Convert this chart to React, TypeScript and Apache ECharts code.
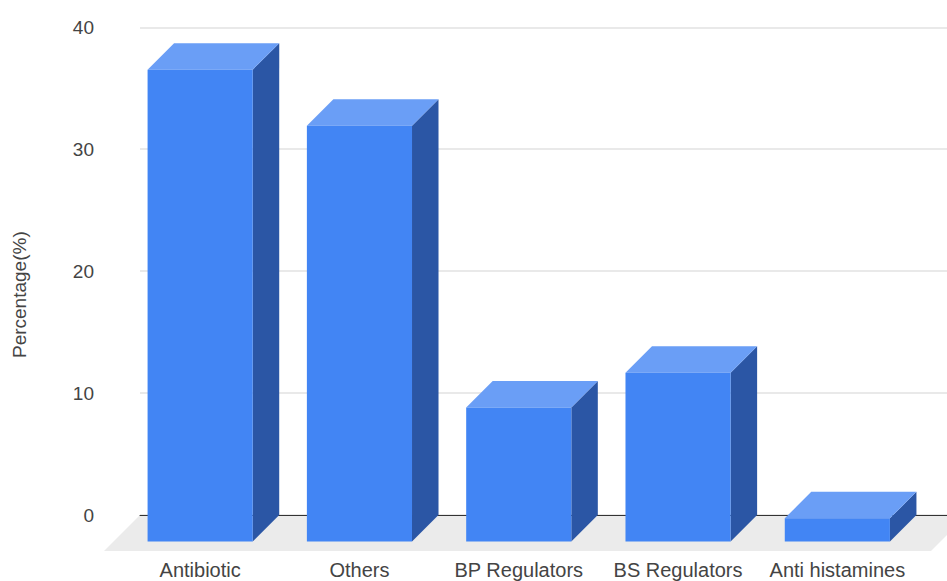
import React, { useEffect, useRef } from "react";
import * as echarts from "echarts";

// Share of prescriptions by drug class (%)
const CATEGORIES = ["Antibiotic", "Others", "BP Regulators", "BS Regulators", "Anti histamines"];
const PERCENTAGES = [38.7, 34.1, 11.0, 13.85, 1.9];
const Y_MIN = 0;
const Y_MAX = 40;
const Y_STEP = 10;
const Y_TITLE = "Percentage(%)";

// 3D look: depth of each column and of the floor, in pixels
const DEPTH = 26.5;
const FLOOR_DEPTH = 36;

// back plane (gridlines, tick labels)
const BACK = { left: 140, right: 0, top: 27.3, bottom: 66 };
// front plane (columns, category labels)
const FRONT = { left: 120.5, width: 796.5, top: 53.8, bottom: 39.5 };

const FONT = "Arial, 'Liberation Sans', sans-serif";
const FRONT_COLOR = "#4285f4";
const TOP_COLOR = "#6a9ef6";
const SIDE_COLOR = "#2b56a5";

export default function App() {
  const ref = useRef<HTMLDivElement>(null);

  useEffect(() => {
    if (!ref.current) return;
    const chart = echarts.init(ref.current, null, { renderer: "svg" });

    const W = 947;
    const H = 581;
    const backBottom = H - BACK.bottom;
    const floorFrontY = backBottom + FLOOR_DEPTH;

    const renderItem = (params: any, api: any) => {
      const idx = api.value(0);
      const val = api.value(1);
      const base = api.coord([idx, 0]);
      const top = api.coord([idx, val]);
      const w = api.size([1, 0])[0] * 0.66;
      const l = base[0] - w / 2;
      const r = base[0] + w / 2;
      const yb = base[1];
      const yt = top[1];
      return {
        type: "group",
        children: [
          {
            type: "polygon",
            shape: { points: [[r, yt], [r + DEPTH, yt - DEPTH], [r + DEPTH, yb - DEPTH], [r, yb]] },
            style: { fill: SIDE_COLOR },
          },
          {
            type: "polygon",
            shape: { points: [[l, yt], [l + DEPTH, yt - DEPTH], [r + DEPTH, yt - DEPTH], [r, yt]] },
            style: { fill: TOP_COLOR },
          },
          {
            type: "rect",
            shape: { x: l, y: yt, width: w, height: yb - yt },
            style: { fill: FRONT_COLOR },
          },
        ],
      };
    };

    chart.setOption({
      animation: false,
      backgroundColor: "#ffffff",
      textStyle: { fontFamily: FONT },
      graphic: [
        {
          type: "polygon",
          z: -1,
          silent: true,
          shape: {
            points: [
              [BACK.left - FLOOR_DEPTH, floorFrontY],
              [BACK.left, backBottom],
              [W + 20, backBottom],
              [W + 20 - FLOOR_DEPTH, floorFrontY],
            ],
          },
          style: { fill: "#ebebeb" },
        },
      ],
      grid: [
        { left: BACK.left, right: BACK.right, top: BACK.top, bottom: BACK.bottom, containLabel: false },
        { left: FRONT.left, width: FRONT.width, top: FRONT.top, bottom: FRONT.bottom, containLabel: false },
      ],
      xAxis: [
        {
          gridIndex: 0,
          type: "category",
          data: CATEGORIES,
          axisLabel: { show: false },
          axisTick: { show: false },
          axisLine: { show: true, lineStyle: { color: "#333333", width: 1 } },
          splitLine: { show: false },
        },
        {
          gridIndex: 1,
          type: "category",
          data: CATEGORIES,
          axisLine: { show: false },
          axisTick: { show: false },
          splitLine: { show: false },
          axisLabel: { color: "#444444", fontSize: 20, fontFamily: FONT, margin: 18, interval: 0 },
        },
      ],
      yAxis: [
        {
          gridIndex: 0,
          type: "value",
          min: Y_MIN,
          max: Y_MAX,
          interval: Y_STEP,
          axisLine: { show: false },
          axisTick: { show: false },
          axisLabel: { color: "#444444", fontSize: 19, fontFamily: FONT, margin: 46 },
          splitLine: { show: true, lineStyle: { color: "#e2e2e2", width: 1.5 } },
        },
        {
          gridIndex: 1,
          type: "value",
          min: Y_MIN,
          max: Y_MAX,
          interval: Y_STEP,
          name: Y_TITLE,
          nameLocation: "middle",
          nameRotate: 90,
          nameGap: 92,
          nameTextStyle: { color: "#444444", fontSize: 19, fontFamily: FONT, padding: [0, 0, 0, 6] },
          axisLine: { show: false },
          axisTick: { show: false },
          axisLabel: { show: false },
          splitLine: { show: false },
        },
      ],
      series: [
        {
          type: "custom",
          xAxisIndex: 1,
          yAxisIndex: 1,
          renderItem,
          encode: { x: 0, y: 1 },
          data: PERCENTAGES.map((v, i) => [i, v]),
        },
      ],
    });

    return () => chart.dispose();
  }, []);

  return (
    <div
      ref={ref}
      style={{ position: "fixed", left: 0, top: 0, width: 947, height: 581 }}
    />
  );
}
